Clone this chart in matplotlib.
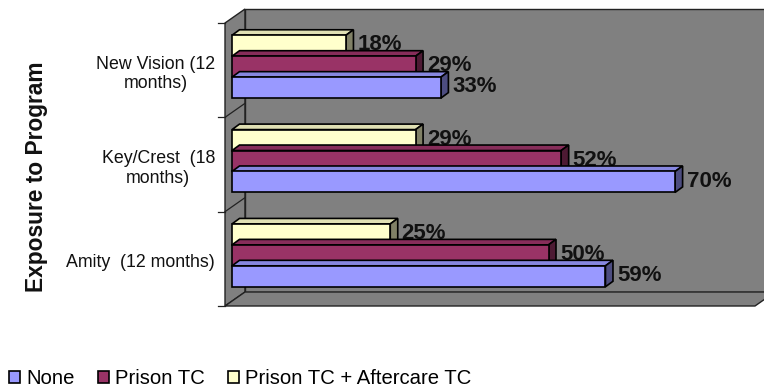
import numpy as np
import matplotlib
matplotlib.use("Agg")
import matplotlib.pyplot as plt
from matplotlib.patches import Polygon, Rectangle, Patch
from matplotlib.colors import to_rgb

plt.rcParams['font.family'] = ['Liberation Sans', 'DejaVu Sans']

# data (bottom category first, as the chart draws it)
categories = ["Amity  (12 months)", "Key/Crest  (18\nmonths)", "New Vision (12\nmonths)"]
series_names = ["None", "Prison TC", "Prison TC + Aftercare TC"]
none_vals = [59, 70, 33]
prison_vals = [50, 52, 29]
aftercare_vals = [25, 29, 18]
series_vals = [none_vals, prison_vals, aftercare_vals]
series_colors = ["#9999FF", "#993366", "#FFFFCC"]

W, H = 764, 389
fig = plt.figure(figsize=(W / 100, H / 100), dpi=100)

# front plane of the 3d box, in pixels
px_left, px_right, px_top, px_bot = 225, 755, 23, 306
px_zero = 232
ppu = 6.33  # pixels per percent
xmin = (px_left - px_zero) / ppu
xmax = (px_right - px_zero) / ppu
ax = fig.add_axes([px_left / W, 1 - px_bot / H, (px_right - px_left) / W, (px_bot - px_top) / H])
ax.set_xlim(xmin, xmax)
ax.set_ylim(-0.5, len(categories) - 0.5)
ax.axis("off")
ypu = (px_bot - px_top) / len(categories)

# wall depth and bar depth, converted to data units
wdx, wdy = 20 / ppu, 14 / ypu
bdx, bdy = 7.5 / ppu, 5.5 / ypu

gray = "#808080"
yb, yt = -0.5, len(categories) - 0.5
walls = [
    [(xmin, yb), (xmin, yt), (xmin + wdx, yt + wdy), (xmin + wdx, yb + wdy)],
    [(xmin + wdx, yb + wdy), (xmin + wdx, yt + wdy), (xmax + wdx + 5, yt + wdy), (xmax + wdx + 5, yb + wdy)],
    [(xmin, yb), (xmax, yb), (xmax + wdx, yb + wdy), (xmin + wdx, yb + wdy)],
]
for pts in walls:
    ax.add_patch(Polygon(pts, closed=True, facecolor=gray, edgecolor="#222222", lw=1.0, clip_on=False, zorder=1))

# category dividers on the side wall + outward ticks
for k in range(len(categories) + 1):
    y = -0.5 + k
    if 0 < k < len(categories):
        ax.plot([xmin, xmin + wdx], [y, y + wdy], color="#222222", lw=0.9, clip_on=False, zorder=1.5)
    ax.plot([xmin - 7 / ppu, xmin], [y, y], color="#222222", lw=0.9, clip_on=False, zorder=1.5)


def shade(c, f):
    r, g, b = to_rgb(c)
    return (r * f, g * f, b * f)


h = 0.222
shift = 0.037
z = 2
for i, cat in enumerate(categories):
    # draw from top bar (aftercare) down so lower bars overlap labels above
    for j in [2, 1, 0]:
        v = series_vals[j][i]
        yc = i + shift + (j - 1) * h
        y0, y1 = yc - h / 2, yc + h / 2
        col = series_colors[j]
        ec = "black"
        top = [(0, y1), (v, y1), (v + bdx, y1 + bdy), (bdx, y1 + bdy)]
        side = [(v, y0), (v + bdx, y0 + bdy), (v + bdx, y1 + bdy), (v, y1)]
        ax.add_patch(Polygon(top, closed=True, facecolor=shade(col, 0.88), edgecolor=ec, lw=1.2, zorder=z, clip_on=False))
        ax.add_patch(Polygon(side, closed=True, facecolor=shade(col, 0.5), edgecolor=ec, lw=1.2, zorder=z, clip_on=False))
        ax.add_patch(Rectangle((0, y0), v, h, facecolor=col, edgecolor=ec, lw=1.2, zorder=z, clip_on=False))
        ax.text(v + bdx + 4 / ppu, yc + 0.01, f"{v}%", ha="left", va="center", fontsize=16,
                fontweight="bold", color="#111111", zorder=z + 0.5, clip_on=False)
        z += 1

# category labels
for i, cat in enumerate(categories):
    yp = 1 - (px_bot - (i + 0.5) * ypu + 4) / H
    fig.text(215 / W, yp, cat, ha="right", va="center", multialignment="center", fontsize=12.8, color="#111111")

fig.text(37 / W, 1 - 177 / H, "Exposure to Program", rotation=90, ha="center", va="center",
         fontsize=16.4, fontweight="bold", color="#111111")

handles = [Patch(facecolor=c, edgecolor="black", lw=1.2) for c in series_colors]
fig.legend(handles, series_names, loc="center left", bbox_to_anchor=(9 / W, 1 - 379 / H), ncol=3,
           frameon=False, fontsize=14.6, handlelength=0.55, handleheight=0.55, handletextpad=0.3,
           columnspacing=1.15, borderpad=0, borderaxespad=0)

fig.savefig("out.png", dpi=100)
